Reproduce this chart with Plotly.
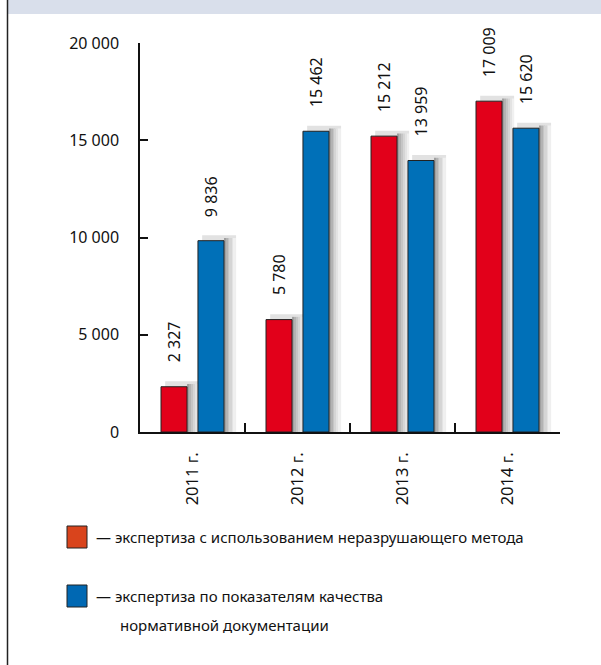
import plotly.graph_objects as go

years = ["2011 г.", "2012 г.", "2013 г.", "2014 г."]
nondestructive = [2327, 5780, 15212, 17009]
normative = [9836, 15462, 13959, 15620]
y_ticks = [0, 5000, 10000, 15000, 20000]
y_tick_text = ["0", "5 000", "10 000", "15 000", "20 000"]
legend_texts = [
    "— экспертиза с использованием неразрушающего метода",
    "— экспертиза по показателям качества",
    "нормативной документации",
]

W, H = 601, 665
L, R, T, B = 140, 41, 43, 233
PW, PH = W - L - R, H - T - B
FONT = "Noto Sans"


def px_x(p):
    return (p - L) / PW


def px_y(p):
    return (H - B - p) / PH


series = [
    (nondestructive, "#e2001a", -0.30),
    (normative, "#0070b8", 0.052),
]
bw = 0.248

fig = go.Figure()
shade = ["#a0a0a0", "#b3b3b3", "#c5c5c5", "#d5d5d5", "#e3e3e3", "#f0f0f0"]
sw = 0.019
# shadows
for vals, col, off in series:
    fig.add_trace(go.Bar(x=years, y=[v + 280 for v in vals], offset=off + 0.04,
                         width=bw + 0.075, marker=dict(color="#e2e2e2", line=dict(width=0)),
                         showlegend=False, hoverinfo="skip"))
    for k, c in enumerate(shade):
        fig.add_trace(go.Bar(x=years, y=[v + 140 for v in vals], offset=off + bw + k * sw,
                             width=sw, marker=dict(color=c, line=dict(width=0)),
                             showlegend=False, hoverinfo="skip"))
# main bars
for vals, col, off in series:
    fig.add_trace(go.Bar(x=years, y=vals, offset=off, width=bw,
                         marker=dict(color=col, line=dict(color="#222222", width=1)),
                         showlegend=False))

annotations = []
for vals, col, off in series:
    for i, v in enumerate(vals):
        annotations.append(dict(
            x=i + off + bw / 2, y=v, xref="x", yref="y",
            text=f"{v:,}".replace(",", " "), textangle=-90, showarrow=False,
            xanchor="center", yanchor="bottom", yshift=22,
            font=dict(family=FONT, size=16, color="#111111")))

# legend
legend_colors = ["#d9441c", "#0068b3"]
legend_rows = [537, 596]
shapes = []
for c, yc in zip(legend_colors, legend_rows):
    shapes.append(dict(type="rect", xref="paper", yref="paper",
                       x0=px_x(67), x1=px_x(87), y0=px_y(yc - 11), y1=px_y(yc + 11),
                       fillcolor=c, line=dict(color="#222222", width=1)))
for txt, (xp, yp) in zip(legend_texts, [(94, 537), (94, 596), (118, 625)]):
    annotations.append(dict(x=px_x(xp), y=px_y(yp), xref="paper", yref="paper",
                            text=txt, showarrow=False, xanchor="left", yanchor="middle",
                            font=dict(family=FONT, size=15, color="#111111")))

# header band and left border
shapes.append(dict(type="rect", xref="paper", yref="paper", layer="below",
                   x0=px_x(8), x1=px_x(W + 2), y0=px_y(14), y1=px_y(-2),
                   fillcolor="#d9dfeb", line=dict(width=0)))
shapes.append(dict(type="line", xref="paper", yref="paper",
                   x0=px_x(7.5), x1=px_x(7.5), y0=px_y(-2), y1=px_y(H + 2),
                   line=dict(color="#222222", width=1.5)))

fig.update_layout(
    width=W, height=H, margin=dict(l=L, r=R, t=T, b=B),
    paper_bgcolor="white", plot_bgcolor="white",
    barmode="overlay", showlegend=False,
    annotations=annotations, shapes=shapes,
    font=dict(family=FONT, size=16, color="#111111"),
    xaxis=dict(type="category", categoryorder="array", categoryarray=years,
               range=[-0.5, 3.5], tickson="boundaries", ticks="inside", ticklen=9,
               tickcolor="#111111", tickwidth=1.5, tickangle=-90,
               showline=True, linecolor="#111111", linewidth=1.5,
               showgrid=False, zeroline=False, ticklabelstandoff=12,
               tickfont=dict(family=FONT, size=16.5, color="#111111")),
    yaxis=dict(range=[0, 20000], tickvals=y_ticks, ticktext=y_tick_text,
               ticks="inside", ticklen=8, tickcolor="#111111", tickwidth=1.5,
               showline=True, linecolor="#111111", linewidth=1.5,
               showgrid=False, zeroline=False, ticklabelstandoff=16,
               tickfont=dict(family=FONT, size=16, color="#111111")),
)

fig.write_html("out.html")
